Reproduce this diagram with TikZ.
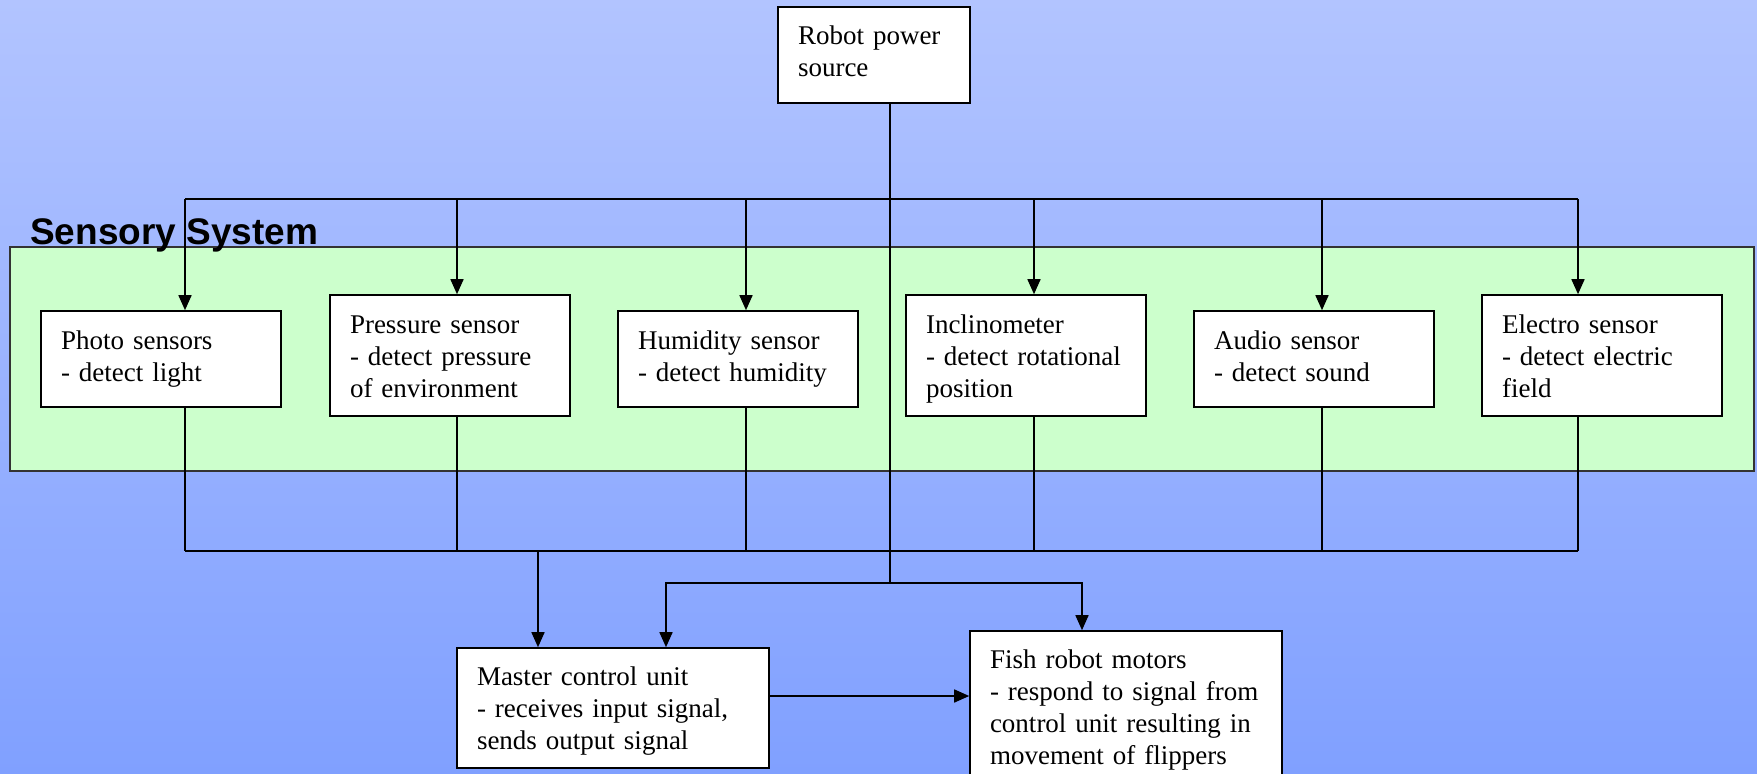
\documentclass[tikz,border=0pt]{standalone}
\usepackage{fontspec}
\setmainfont{Liberation Serif}
\newfontfamily\titlefont{Liberation Sans}
\usetikzlibrary{arrows.meta}
\definecolor{bgtop}{RGB}{178,196,255}
\definecolor{bgbot}{RGB}{128,160,255}
\definecolor{sensgreen}{RGB}{204,255,204}
\begin{document}
\begin{tikzpicture}[x=1pt,y=-1pt,
  box/.style={draw=black, fill=white, line width=1.6pt, inner xsep=20pt, inner ysep=0pt,
    align=left, font=\fontsize{27}{32}\selectfont},
  twoline/.style={box, text width=200pt, minimum height=96pt, text height=19pt, text depth=38pt},
  threeline/.style={box, text width=200pt, minimum height=121pt, text height=19pt, text depth=64pt},
  conn/.style={line width=1.6pt},
  arr/.style={conn,-{Triangle[length=15pt,width=13pt]}}]
\useasboundingbox (0,0) rectangle (1757,774);
\clip (0,0) rectangle (1757,774);
\shade[top color=bgtop,bottom color=bgbot] (0,0) rectangle (1757,774);
\draw[fill=sensgreen, draw=black!80, line width=1.6pt] (10,247) rectangle (1754,471);
\node[anchor=base west, font=\titlefont\bfseries\fontsize{37}{44}\selectfont, inner sep=0pt] (title) at (30,244) {Sensory System};

\node[box, text width=152pt, minimum height=96pt, text height=19pt, text depth=41pt] (power) at (874,55) {Robot power\\source};

\node[twoline] (photo) at (161,359) {Photo sensors\\- detect light};
\node[threeline] (pressure) at (450,355.5) {Pressure sensor\\- detect pressure\\of environment};
\node[twoline] (humid) at (738,359) {Humidity sensor\\- detect humidity};
\node[threeline] (incl) at (1026,355.5) {Inclinometer\\- detect rotational\\position};
\node[twoline] (audio) at (1314,359) {Audio sensor\\- detect sound};
\node[threeline] (electro) at (1602,355.5) {Electro sensor\\- detect electric\\field};

\node[box, text width=272pt, minimum height=120pt, text height=19pt, text depth=65pt] (master) at (613,708) {Master control unit\\- receives input signal,\\sends output signal};
\node[box, text width=272pt, minimum height=158pt] (fish) at (1126,710) {Fish robot motors\\- respond to signal from\\control unit resulting in\\movement of flippers};

\coordinate (t1) at (185,199);
\coordinate (t2) at (457,199);
\coordinate (t3) at (746,199);
\coordinate (t4) at (1034,199);
\coordinate (t5) at (1322,199);
\coordinate (t6) at (1578,199);
\coordinate (bus) at (0,551);
\coordinate (split) at (890,583);
\coordinate (mL) at (666,583);
\coordinate (fR) at (1082,583);
\coordinate (mc) at (538,551);
\coordinate (hy) at (0,696);

\draw[conn] (power.south -| split) -- (split);
\draw[conn] (t1) -- (t6);
\draw[arr] (t1) -- (t1 |- photo.north);
\draw[arr] (t2) -- (t2 |- pressure.north);
\draw[arr] (t3) -- (t3 |- humid.north);
\draw[arr] (t4) -- (t4 |- incl.north);
\draw[arr] (t5) -- (t5 |- audio.north);
\draw[arr] (t6) -- (t6 |- electro.north);

\draw[conn] (t1 |- photo.south) -- (t1 |- bus);
\draw[conn] (t2 |- pressure.south) -- (t2 |- bus);
\draw[conn] (t3 |- humid.south) -- (t3 |- bus);
\draw[conn] (t4 |- incl.south) -- (t4 |- bus);
\draw[conn] (t5 |- audio.south) -- (t5 |- bus);
\draw[conn] (t6 |- electro.south) -- (t6 |- bus);
\draw[conn] (t1 |- bus) -- (t6 |- bus);

\draw[arr] (mc) -- (mc |- master.north);
\draw[arr] (split) -- (mL) -- (mL |- master.north);
\draw[arr] (split) -- (fR) -- (fR |- fish.north);
\draw[arr] (master.east |- hy) -- (fish.west |- hy);
\end{tikzpicture}
\end{document}
